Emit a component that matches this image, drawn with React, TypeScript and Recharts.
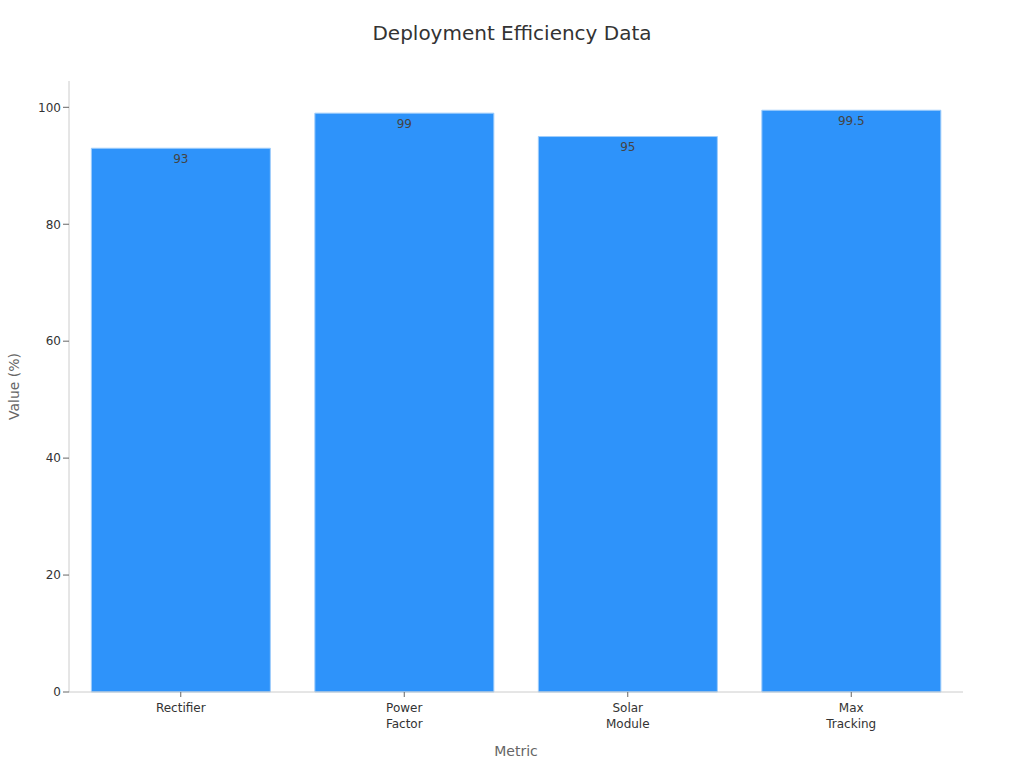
import React from 'react'
import { BarChart, Bar, XAxis, YAxis, LabelList, Label } from 'recharts'

const metrics = ['Rectifier', 'Power Factor', 'Solar Module', 'Max Tracking']
const values = [93, 99, 95, 99.5]
const yTicks = [0, 20, 40, 60, 80, 100]

const data = metrics.map((m, i) => ({ metric: m, value: values[i] }))

const font = 'DejaVu Sans, sans-serif'

const WrappedTick = (props: any) => {
  const { x, y, payload } = props
  const words = String(payload.value).split(' ')
  return (
    <g transform={`translate(${x},${y})`}>
      <text textAnchor="middle" fill="#333" fontSize={12} fontFamily={font}>
        {words.map((w, i) => (
          <tspan key={i} x={0} dy={i === 0 ? 13 : 16}>
            {w}
          </tspan>
        ))}
      </text>
    </g>
  )
}

export default function App() {
  return (
    <div style={{ position: 'absolute', left: 0, top: 0, width: 1024, height: 768, background: '#fff' }}>
      <div
        style={{
          position: 'absolute',
          top: 21,
          width: 1024,
          textAlign: 'center',
          fontFamily: font,
          fontSize: 20,
          color: '#333',
        }}
      >
        Deployment Efficiency Data
      </div>
      <BarChart
        width={1024}
        height={768}
        data={data}
        barCategoryGap="10%"
        margin={{ top: 81, right: 61, left: 9, bottom: 16 }}
      >
        <XAxis
          dataKey="metric"
          tick={<WrappedTick />}
          height={60}
          stroke="#ccc"
          tickLine={{ stroke: '#666' }}
          tickSize={5}
        >
          <Label value="Metric" position="insideBottom" offset={-4} fill="#666" fontSize={14} fontFamily={font} />
        </XAxis>
        <YAxis
          domain={[0, 104.5]}
          ticks={yTicks}
          width={60}
          stroke="#ccc"
          tick={{ fill: '#333', fontSize: 12, fontFamily: font }}
          tickLine={{ stroke: '#666' }}
        >
          <Label
            value="Value (%)"
            angle={-90}
            position="insideLeft"
            offset={5}
            style={{ textAnchor: 'middle' }}
            fill="#666"
            fontSize={14}
            fontFamily={font}
          />
        </YAxis>
        <Bar dataKey="value" fill="#2E93FA" stroke="#9fcdfb" strokeWidth={1} isAnimationActive={false}>
          <LabelList dataKey="value" position="insideTop" offset={6} fill="#444" fontSize={12} fontFamily={font} />
        </Bar>
      </BarChart>
    </div>
  )
}
